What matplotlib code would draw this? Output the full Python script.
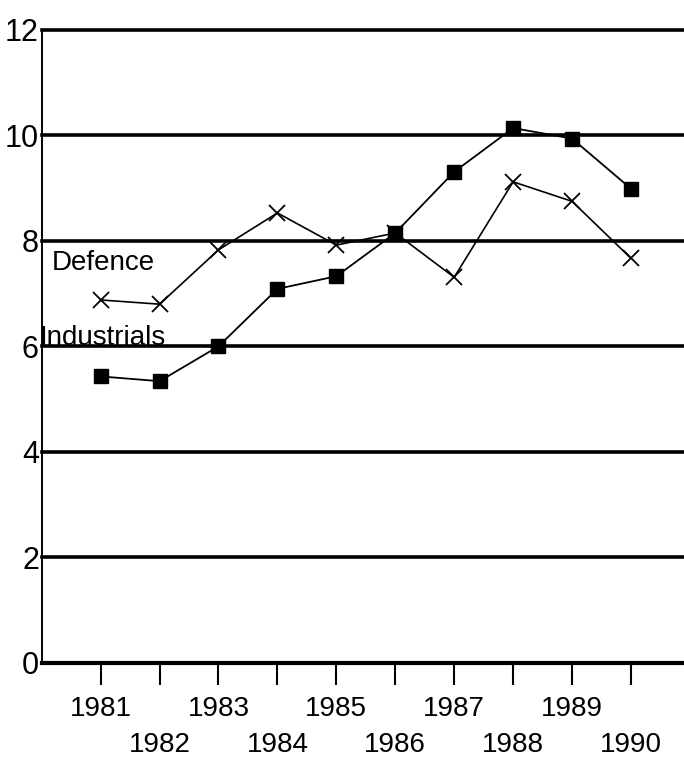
import matplotlib
matplotlib.use("Agg")
import matplotlib.pyplot as plt

years = [1981, 1982, 1983, 1984, 1985, 1986, 1987, 1988, 1989, 1990]
defence = [6.88, 6.80, 7.83, 8.53, 7.92, 8.15, 7.31, 9.12, 8.75, 7.67]
industrials = [5.43, 5.34, 6.00, 7.09, 7.33, 8.15, 9.31, 10.14, 9.94, 8.99]
yticks = [0, 2, 4, 6, 8, 10, 12]

plt.rcParams['font.family'] = ['Liberation Sans Narrow', 'Liberation Sans', 'DejaVu Sans']

fig = plt.figure(figsize=(6.84, 7.68), dpi=100)
ax = fig.add_axes([0.061, 0.137, 0.939, 0.824])

# horizontal rules
for v in yticks[1:]:
    ax.axhline(v, color='black', lw=2.6, zorder=1, clip_on=False)

ax.plot(years, defence, color='black', lw=1.2, marker='x', ms=12, mew=1.3, zorder=3)
ax.plot(years, industrials, color='black', lw=1.3, marker='s', ms=10, zorder=3)

ax.text(1980.17, 7.58, 'Defence', fontsize=20, va='center', ha='left', zorder=2)
ax.text(1979.97, 6.15, 'Industrials', fontsize=20, va='center', ha='left', zorder=0,
        clip_on=False)

ax.set_xlim(1980.0, 1990.9)
ax.set_ylim(0, 12)
ax.set_yticks(yticks)
ax.set_yticklabels([str(v) for v in yticks], fontsize=22)
ax.set_xticks(years)
ax.set_xticklabels([str(y) if y % 2 else '\n' + str(y) for y in years],
                   fontsize=20, linespacing=1.5)

ax.tick_params(axis='y', length=0, pad=2)
ax.tick_params(axis='x', direction='out', length=16, width=1.5, pad=8)

for s in ['top', 'right']:
    ax.spines[s].set_visible(False)
ax.spines['left'].set_linewidth(1.4)
ax.spines['bottom'].set_linewidth(3)

fig.savefig('out.png', dpi=100)
